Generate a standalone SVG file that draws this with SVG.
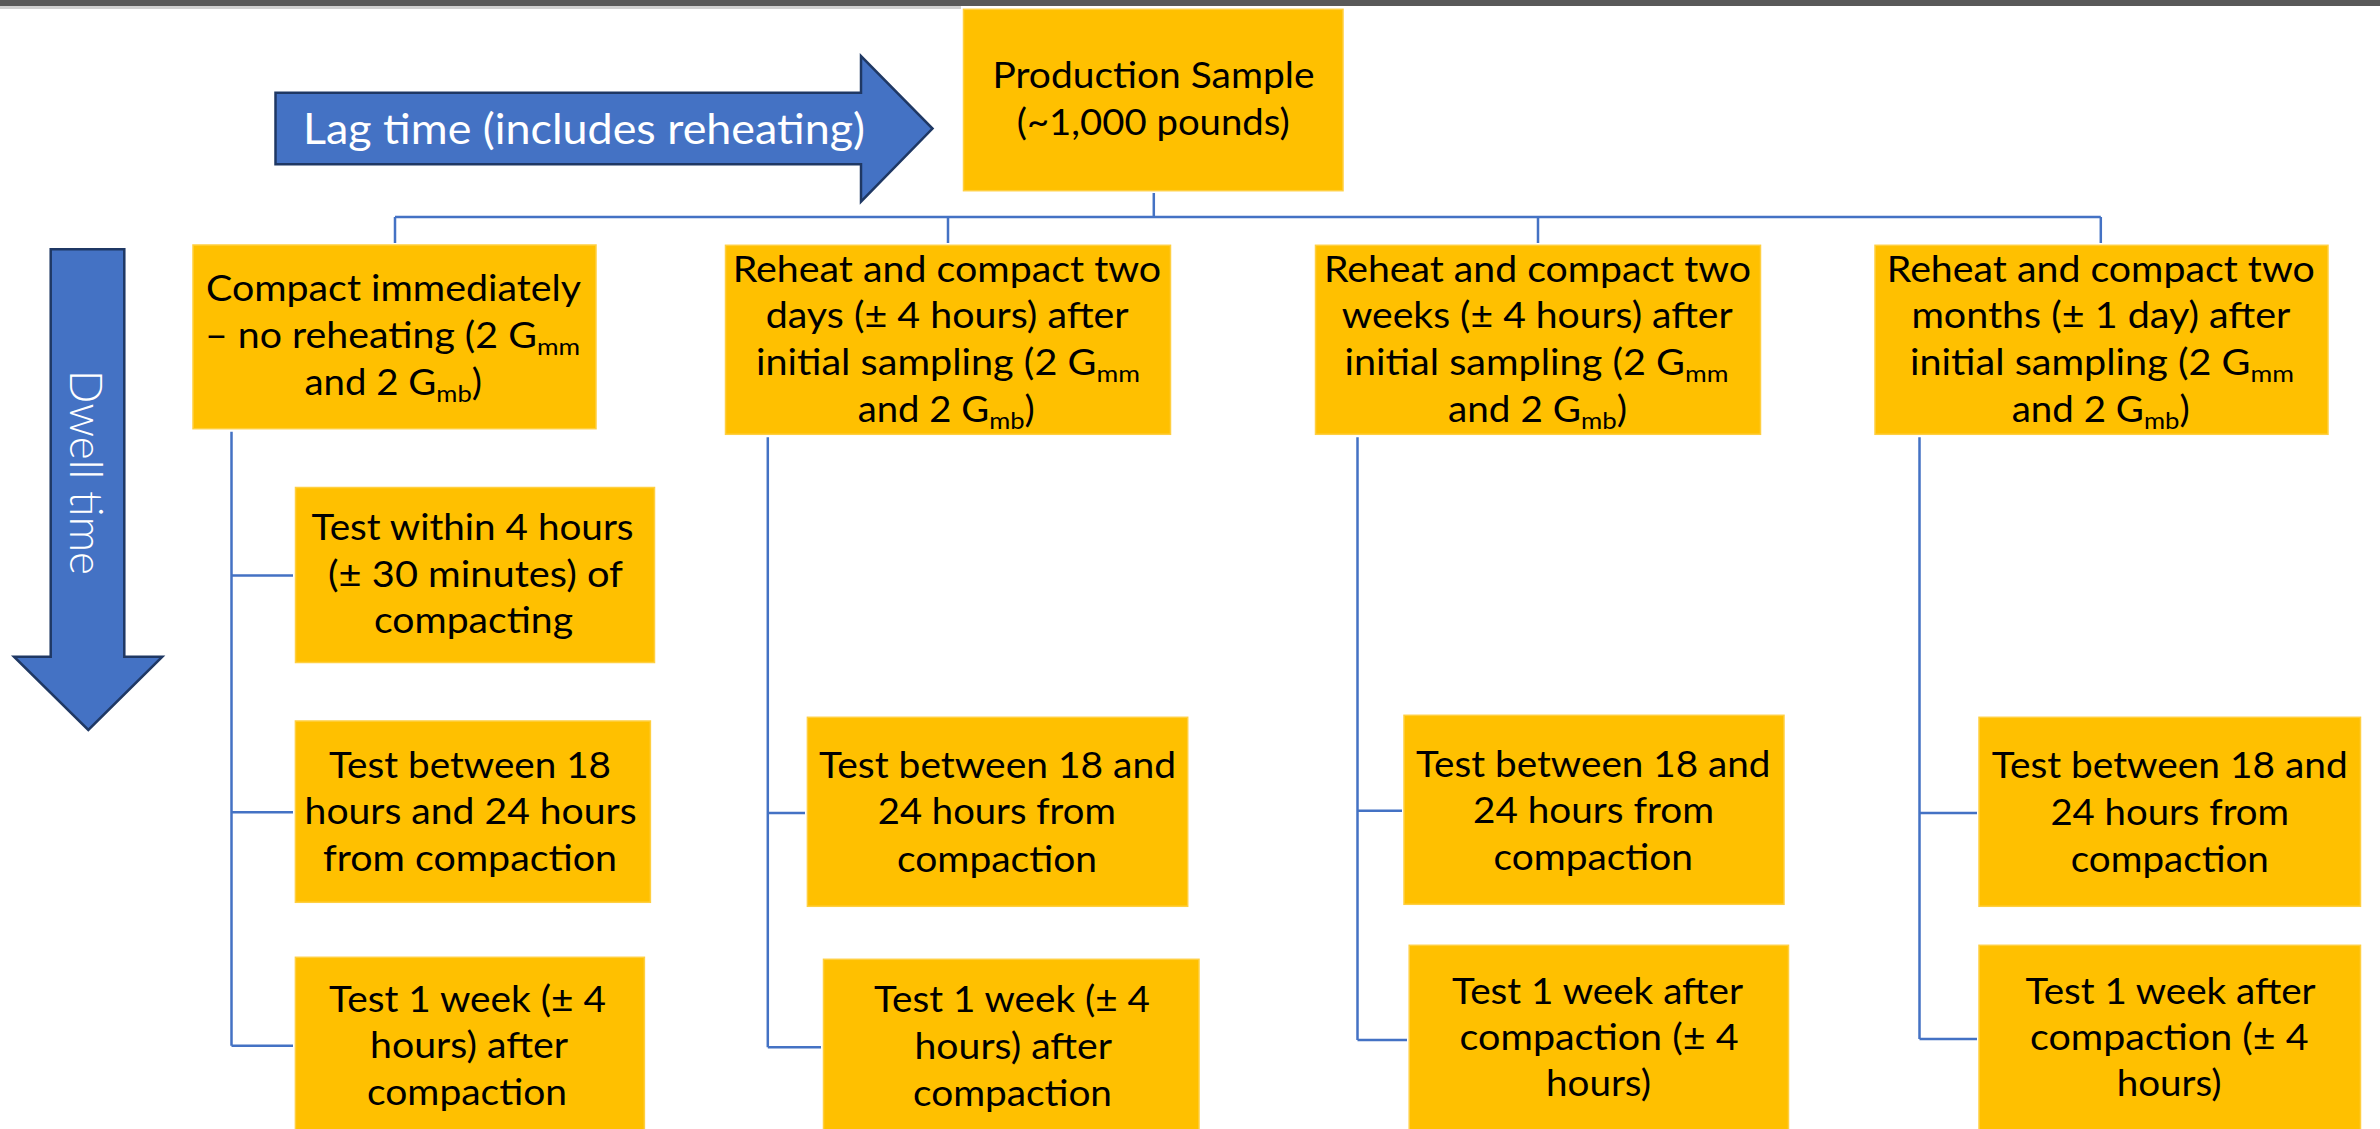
<svg xmlns="http://www.w3.org/2000/svg" width="2380" height="1129" viewBox="0 0 2380 1129">
<defs>
<style>
.box{fill:#FFC000;stroke:#FFCF40;stroke-width:1.5}
.t{font-family:Lato,"Open Sans","Liberation Sans",sans-serif;font-size:36px;fill:#000}
.sub{font-size:24px}
.arrow{fill:#4472C4;stroke:#1F3864;stroke-width:2.5;stroke-linejoin:miter}
.at{font-family:Lato,"Open Sans","Liberation Sans",sans-serif;fill:#FFFFFF}
.conn{fill:none;stroke:#4472C4;stroke-width:2.5}
</style>
</defs>
<rect x="0" y="0" width="2380" height="1129" fill="#FFFFFF"/>
<rect x="0" y="0" width="2380" height="6" fill="#595959"/>
<rect x="0" y="6" width="961" height="3" fill="#D0D0D0"/>

<g id="lag-arrow">
<polygon class="arrow" points="275.5,92.7 861,92.7 861,56 932.5,128.5 861,201.7 861,164.3 275.5,164.3"/>
<text class="at" x="303" y="144" font-size="43" textLength="562" lengthAdjust="spacingAndGlyphs">Lag time (includes reheating)</text>
</g>

<g id="dwell-arrow">
<polygon class="arrow" points="50.7,249.3 124.3,249.3 124.3,656.7 162.3,656.7 88.3,730 14,656.7 50.7,656.7"/>
<text class="at" x="472.5" y="-69.5" font-size="46" font-weight="300" text-anchor="middle" textLength="205" lengthAdjust="spacingAndGlyphs" transform="rotate(90)">Dwell time</text>
</g>

<g id="connectors">
<path class="conn" d="M1153.8,193 V217 M395,217 H2100.8 M395,217 V243 M948,217 V243 M1538,217 V243 M2100.8,217 V243"/>
<path class="conn" d="M231.5,431.7 V1045.7 M231.5,575.5 H293 M231.5,812.3 H293 M231.5,1045.7 H293"/>
<path class="conn" d="M767.8,437.3 V1047.3 M767.8,813 H805 M767.8,1047.3 H821"/>
<path class="conn" d="M1357.5,437.3 V1040 M1357.5,810.7 H1402 M1357.5,1040 H1407"/>
<path class="conn" d="M1919.5,437.3 V1039 M1919.5,813 H1977 M1919.5,1039 H1977"/>
</g>

<g id="production-sample">
<rect class="box" x="963.5" y="9.3" width="379.5" height="181.4"/>
<text class="t" x="992.5" y="88.3" textLength="322" lengthAdjust="spacingAndGlyphs">Production Sample</text>
<text class="t" x="1016.7" y="135" textLength="273" lengthAdjust="spacingAndGlyphs">(~1,000 pounds)</text>
</g>

<g id="compact-immediately">
<rect class="box" x="193" y="245" width="403" height="183.7"/>
<text class="t" x="206" y="301" textLength="375" lengthAdjust="spacingAndGlyphs">Compact immediately</text>
<text class="t" x="205" y="347.7" textLength="375" lengthAdjust="spacingAndGlyphs">– no reheating (2 G<tspan class="sub" dy="7">mm</tspan></text>
<text class="t" x="304.5" y="395" textLength="177.5" lengthAdjust="spacingAndGlyphs">and 2 G<tspan class="sub" dy="7">mb</tspan><tspan dy="-7">)</tspan></text>
</g>

<g id="reheat-two-days">
<rect class="box" x="725.5" y="245.3" width="445" height="189"/>
<text class="t" x="732.7" y="281.7" textLength="428.5" lengthAdjust="spacingAndGlyphs">Reheat and compact two</text>
<text class="t" x="765.7" y="328.3" textLength="363" lengthAdjust="spacingAndGlyphs">days (± 4 hours) after</text>
<text class="t" x="755.9" y="375" textLength="384" lengthAdjust="spacingAndGlyphs">initial sampling (2 G<tspan class="sub" dy="7">mm</tspan></text>
<text class="t" x="857.7" y="421.7" textLength="177" lengthAdjust="spacingAndGlyphs">and 2 G<tspan class="sub" dy="7">mb</tspan><tspan dy="-7">)</tspan></text>
</g>

<g id="reheat-two-weeks">
<rect class="box" x="1315.5" y="245.3" width="445" height="189"/>
<text class="t" x="1324" y="281.7" textLength="427" lengthAdjust="spacingAndGlyphs">Reheat and compact two</text>
<text class="t" x="1341.7" y="328.3" textLength="391" lengthAdjust="spacingAndGlyphs">weeks (± 4 hours) after</text>
<text class="t" x="1344.5" y="375" textLength="384" lengthAdjust="spacingAndGlyphs">initial sampling (2 G<tspan class="sub" dy="7">mm</tspan></text>
<text class="t" x="1448" y="421.7" textLength="179" lengthAdjust="spacingAndGlyphs">and 2 G<tspan class="sub" dy="7">mb</tspan><tspan dy="-7">)</tspan></text>
</g>

<g id="reheat-two-months">
<rect class="box" x="1875" y="245.3" width="453" height="189"/>
<text class="t" x="1886.8" y="281.7" textLength="428" lengthAdjust="spacingAndGlyphs">Reheat and compact two</text>
<text class="t" x="1911.4" y="328.3" textLength="379" lengthAdjust="spacingAndGlyphs">months (± 1 day) after</text>
<text class="t" x="1910" y="375" textLength="384" lengthAdjust="spacingAndGlyphs">initial sampling (2 G<tspan class="sub" dy="7">mm</tspan></text>
<text class="t" x="2011.7" y="421.7" textLength="178" lengthAdjust="spacingAndGlyphs">and 2 G<tspan class="sub" dy="7">mb</tspan><tspan dy="-7">)</tspan></text>
</g>

<g id="c1-test-4h">
<rect class="box" x="295.5" y="487.5" width="359" height="175"/>
<text class="t" x="311.6" y="540" textLength="322" lengthAdjust="spacingAndGlyphs">Test within 4 hours</text>
<text class="t" x="328" y="586.7" textLength="295" lengthAdjust="spacingAndGlyphs">(± 30 minutes) of</text>
<text class="t" x="374" y="633.3" textLength="199" lengthAdjust="spacingAndGlyphs">compacting</text>
</g>

<g id="c1-test-18-24h">
<rect class="box" x="295.4" y="721" width="355" height="181.3"/>
<text class="t" x="329" y="777.7" textLength="282" lengthAdjust="spacingAndGlyphs">Test between 18</text>
<text class="t" x="304.6" y="824" textLength="332" lengthAdjust="spacingAndGlyphs">hours and 24 hours</text>
<text class="t" x="323" y="871" textLength="294" lengthAdjust="spacingAndGlyphs">from compaction</text>
</g>

<g id="c1-test-1w">
<rect class="box" x="295.4" y="957.3" width="349" height="180"/>
<text class="t" x="329" y="1011.7" textLength="277" lengthAdjust="spacingAndGlyphs">Test 1 week (± 4</text>
<text class="t" x="370" y="1058.3" textLength="198" lengthAdjust="spacingAndGlyphs">hours) after</text>
<text class="t" x="367" y="1105" textLength="200" lengthAdjust="spacingAndGlyphs">compaction</text>
</g>

<g id="c2-test-18-24h">
<rect class="box" x="807.4" y="717.3" width="380.3" height="189"/>
<text class="t" x="819" y="777.7" textLength="357" lengthAdjust="spacingAndGlyphs">Test between 18 and</text>
<text class="t" x="877.8" y="824" textLength="238" lengthAdjust="spacingAndGlyphs">24 hours from</text>
<text class="t" x="897" y="871.7" textLength="200" lengthAdjust="spacingAndGlyphs">compaction</text>
</g>

<g id="c2-test-1w">
<rect class="box" x="823.5" y="959.3" width="375.5" height="180"/>
<text class="t" x="874" y="1012.3" textLength="276" lengthAdjust="spacingAndGlyphs">Test 1 week (± 4</text>
<text class="t" x="914.5" y="1059.3" textLength="197.5" lengthAdjust="spacingAndGlyphs">hours) after</text>
<text class="t" x="913" y="1106" textLength="199" lengthAdjust="spacingAndGlyphs">compaction</text>
</g>

<g id="c3-test-18-24h">
<rect class="box" x="1404" y="715.3" width="380" height="189"/>
<text class="t" x="1416" y="776.7" textLength="354.5" lengthAdjust="spacingAndGlyphs">Test between 18 and</text>
<text class="t" x="1473" y="822.7" textLength="241" lengthAdjust="spacingAndGlyphs">24 hours from</text>
<text class="t" x="1493.5" y="870" textLength="199.5" lengthAdjust="spacingAndGlyphs">compaction</text>
</g>

<g id="c3-test-1w">
<rect class="box" x="1409.2" y="945.3" width="379.3" height="190"/>
<text class="t" x="1452" y="1004" textLength="291" lengthAdjust="spacingAndGlyphs">Test 1 week after</text>
<text class="t" x="1459.6" y="1050" textLength="279" lengthAdjust="spacingAndGlyphs">compaction (± 4</text>
<text class="t" x="1546" y="1096" textLength="105" lengthAdjust="spacingAndGlyphs">hours)</text>
</g>

<g id="c4-test-18-24h">
<rect class="box" x="1979" y="717.3" width="381.5" height="189"/>
<text class="t" x="1991.7" y="777.7" textLength="356" lengthAdjust="spacingAndGlyphs">Test between 18 and</text>
<text class="t" x="2050.4" y="824.7" textLength="238.6" lengthAdjust="spacingAndGlyphs">24 hours from</text>
<text class="t" x="2070.8" y="871.7" textLength="198" lengthAdjust="spacingAndGlyphs">compaction</text>
</g>

<g id="c4-test-1w">
<rect class="box" x="1979" y="945.3" width="381.5" height="190"/>
<text class="t" x="2025.6" y="1004" textLength="290" lengthAdjust="spacingAndGlyphs">Test 1 week after</text>
<text class="t" x="2030" y="1050" textLength="278.5" lengthAdjust="spacingAndGlyphs">compaction (± 4</text>
<text class="t" x="2116.7" y="1096" textLength="105" lengthAdjust="spacingAndGlyphs">hours)</text>
</g>
</svg>
